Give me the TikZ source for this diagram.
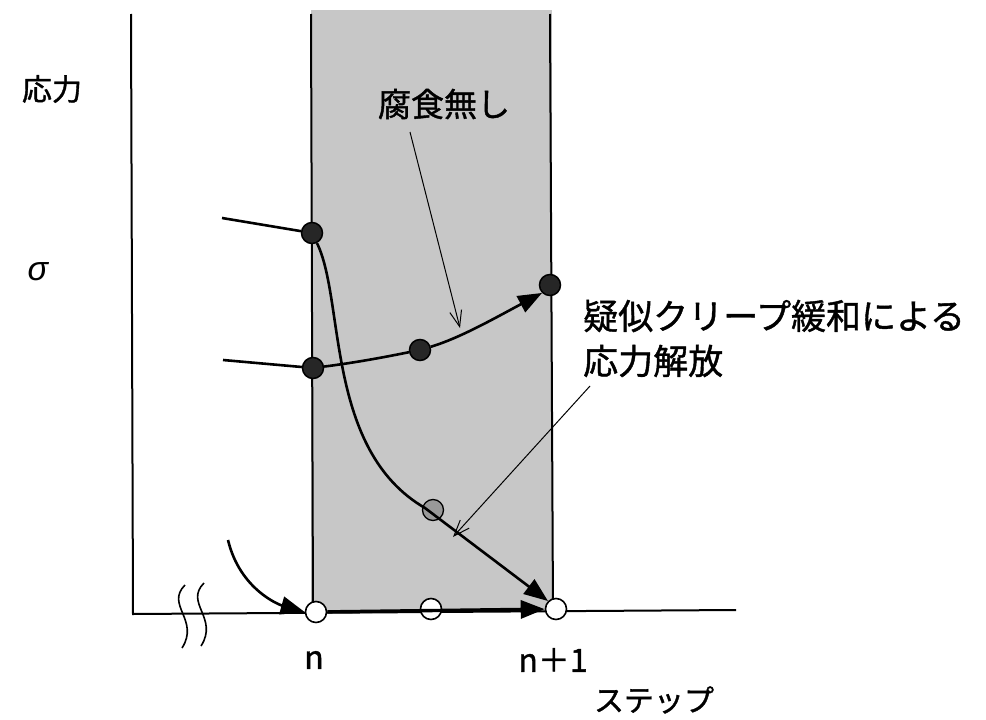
\documentclass[tikz,border=0pt]{standalone}
\usepackage{fontspec}
\newfontfamily\jp{Noto Sans CJK JP}[FakeBold=1.2]
\newfontfamily\grk{Liberation Sans}
\usetikzlibrary{arrows.meta}
\tikzset{
  axisline/.style={line width=2pt},
  curveline/.style={line width=2.6pt},
  thinarrow/.style={line width=1pt,-{Straight Barb[length=16pt,width=12pt,line width=1pt]}},
  bighead/.style={-{Triangle[length=24pt,width=18pt]}},
  blackdot/.style={circle,fill=black!85,draw=black,line width=1.5pt,minimum size=21pt,inner sep=0pt},
  opendot/.style={circle,fill=white,draw=black,line width=1.6pt,minimum size=21pt,inner sep=0pt},
  graydot/.style={circle,fill=black!40,draw=black,line width=1.3pt,minimum size=21pt,inner sep=0pt},
  lbl/.style={font=\jp\fontsize{30}{34}\selectfont,inner sep=0pt},
  biglbl/.style={font=\jp\fontsize{35}{40}\selectfont,inner sep=0pt,anchor=west}
}
\begin{document}
\begin{tikzpicture}[x=1pt,y=-1pt]
\useasboundingbox (0,0) rectangle (986,720);
% shaded region
\fill[black!22] (311,10) rectangle (552,612);
\draw[axisline] (311,14) -- (313,612);
\draw[axisline] (550,14) -- (553,612);
% axes
\coordinate (ytop) at (131,14);
\coordinate (origin) at (133,614);
\coordinate (xend) at (736,610);
\draw[axisline] (ytop) -- (origin) -- (xend);
% break marks
\draw[line width=1.6pt] (185,585) .. controls (165,605) and (200,620) .. (182,648);
\draw[line width=1.6pt] (204,583) .. controls (184,603) and (219,618) .. (201,646);
% nodes on bottom
\node[opendot] (n0) at (316,612) {};
\node[opendot] (nm) at (431,609) {};
\node[opendot] (n1) at (556,609) {};
% black dots
\node[blackdot] (a) at (312,233) {};
\node[blackdot] (b) at (313,368) {};
\node[blackdot] (c) at (420,350) {};
\node[blackdot] (d) at (550,285) {};
\node[graydot] (g) at (433,510) {};
% incoming lines
\coordinate (a0) at (222,218);
\coordinate (b0) at (223,360);
\draw[curveline] (a0) -- (a);
\draw[curveline] (b0) -- (b);
% no-corrosion curve
\draw[curveline] (b) .. controls (360,362) and (390,356) .. (c);
\draw[curveline,bighead] (c) .. controls (460,338) and (495,318) .. (d.south west);
% relaxation curve
\draw[curveline,bighead] (a) .. controls (345,300) and (325,450) .. (425,508) -- (n1.north west);
% bottom arrows
\draw[curveline,line width=3.4pt,bighead] (n0) -- (n1);
\coordinate (cstart) at (228,540);
\draw[curveline,bighead] (cstart) .. controls (240,590) and (280,605) .. (n0.west);
% labels
\node[lbl] (stress) at (52,89) {応力};
\node[inner sep=0pt] (sig) at (38,272) {\grk\itshape\fontsize{34}{38}\selectfont σ};
\node[lbl,font=\jp\fontsize{33}{38}\selectfont] (nocorr) at (444,104) {腐食無し};
\node[biglbl] (creep1) at (583,316) {疑似クリープ緩和による};
\node[biglbl] (creep2) at (583,361) {応力解放};
\node[lbl,font=\jp\fontsize{32}{36}\selectfont] (nlab) at (314,660) {n};
\node[lbl,font=\jp\fontsize{32}{36}\selectfont] (n1lab) at (553,660) {n＋1};
\node[lbl] (step) at (654,700) {ステップ};
% annotation arrows
\coordinate (ar1s) at (410,132);
\coordinate (ar1e) at (460,328);
\draw[thinarrow] (ar1s) -- (ar1e);
\coordinate (ar2s) at (590,386);
\coordinate (ar2e) at (453,537);
\draw[thinarrow] (ar2s) -- (ar2e);
\end{tikzpicture}
\end{document}
